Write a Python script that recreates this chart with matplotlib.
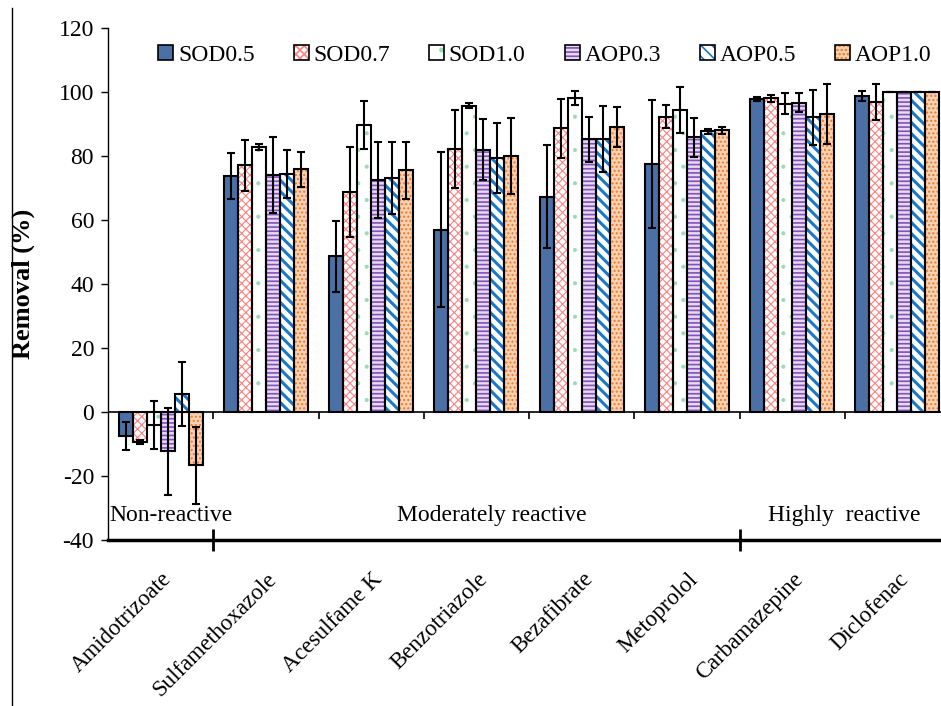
import matplotlib
matplotlib.use("Agg")
import numpy as np
import matplotlib.pyplot as plt
import matplotlib.transforms as mtrans
from matplotlib.lines import Line2D
from matplotlib.patches import Patch
from matplotlib.legend_handler import HandlerTuple

plt.rcParams["font.family"] = ["Liberation Serif", "DejaVu Serif"]
plt.rcParams["axes.unicode_minus"] = False
plt.rcParams["hatch.linewidth"] = 1.2

compounds = ["Amidotrizoate", "Sulfamethoxazole", "Acesulfame K", "Benzotriazole",
             "Bezafibrate", "Metoprolol", "Carbamazepine", "Diclofenac"]
series = ["SOD0.5", "SOD0.7", "SOD1.0", "AOP0.3", "AOP0.5", "AOP1.0"]

# removal (%) per series, one value per compound
sod05 = [-7.5, 73.8, 48.6, 56.9, 67.3, 77.6, 97.8, 98.8]
sod07 = [-9.4, 77.1, 68.8, 82.2, 88.6, 92.3, 98.0, 96.9]
sod10 = [-4.0, 82.9, 89.7, 95.7, 98.1, 94.4, 96.4, 100.0]
aop03 = [-12.3, 74.0, 72.5, 82.0, 85.2, 85.8, 96.7, 100.0]
aop05 = [5.7, 74.4, 73.1, 79.4, 85.2, 87.7, 92.1, 100.0]
aop10 = [-16.7, 75.8, 75.5, 80.0, 89.0, 88.0, 93.0, 100.0]

# standard deviations
sod05_err = [4.5, 7.2, 11.2, 24.2, 16.1, 20.0, 0.7, 1.5]
sod07_err = [0.5, 8.0, 14.0, 12.2, 9.1, 3.5, 1.2, 5.5]
sod10_err = [7.5, 1.0, 7.5, 0.8, 2.3, 7.3, 3.4, 0.0]
aop03_err = [13.6, 11.8, 11.8, 9.5, 7.0, 6.0, 3.1, 0.0]
aop05_err = [10.0, 7.5, 11.2, 11.0, 10.3, 0.8, 8.6, 0.0]
aop10_err = [12.0, 5.4, 8.9, 12.0, 6.2, 1.0, 9.4, 0.0]

groups = ["Non-reactive", "Moderately reactive", "Highly  reactive"]
group_x = [0.1, 3.15, 6.5]
group_sep = [0.5, 5.5]

values = [sod05, sod07, sod10, aop03, aop05, aop10]
errors = [sod05_err, sod07_err, sod10_err, aop03_err, aop05_err, aop10_err]

# (face colour, hatch, hatch colour, hatch linewidth)
styles = [
    ("#4A70A6", None, "#4A70A6", 1.0),
    ("white", "xxxx", "#FF8080", 0.8),
    ("white", ".", "#9ADBB5", 0.5),
    ("#E6DAF2", "----", "#8450BA", 1.2),
    ("white", "\\\\\\", "#1A78C8", 2.2),
    ("#F9D2B4", "....", "#EE7A2A", 1.0),
]

FS = 17

fig = plt.figure(figsize=(9.41, 7.06), dpi=100)
ax = fig.add_axes([108 / 941, 1 - 540 / 706, 842 / 941, 512 / 706])

x = np.arange(len(compounds))
width = 0.8 / len(series)
handles = []
for i, (vals, errs, (fc, hatch, hc, hlw)) in enumerate(zip(values, errors, styles)):
    pos = x - 0.4 + width * (i + 0.5)
    bars = ax.bar(pos, vals, width, color=fc, hatch=hatch, edgecolor=hc, linewidth=0, zorder=2)
    ax.bar(pos, vals, width, fill=False, edgecolor="black", linewidth=1.5, zorder=3)
    ax.errorbar(pos, vals, yerr=errs, fmt="none", ecolor="black", elinewidth=1.5,
                capsize=3, capthick=1.5, zorder=4)
    h = Patch(facecolor=fc, hatch=hatch, edgecolor=hc, linewidth=0)
    if hasattr(h, "set_hatch_linewidth"):
        h.set_hatch_linewidth(hlw)
        for b in bars:
            b.set_hatch_linewidth(hlw)
    handles.append((h, Patch(fill=False, edgecolor="black", linewidth=1.2)))

ax.set_xlim(-0.5, len(compounds) - 0.5)
ax.set_ylim(-40, 120)
ax.set_yticks(np.arange(-40, 121, 20))
ax.tick_params(axis="y", labelsize=FS, direction="out", length=5, width=1, pad=5)

ax.set_xticks(x)
ax.set_xticklabels(compounds, rotation=45, ha="right", va="center",
                   rotation_mode="anchor", fontsize=16.5)
ax.tick_params(axis="x", which="major", length=0, pad=26)
shift = mtrans.ScaledTranslation(8 / 100, 0, fig.dpi_scale_trans)
for lab in ax.get_xticklabels():
    lab.set_transform(lab.get_transform() + shift)
ax.set_xticks(group_sep, minor=True)
ax.tick_params(axis="x", which="minor", direction="inout", length=16, width=2)

# zero line with small boundary ticks
ax.axhline(0, color="black", linewidth=1.2, zorder=5)
ax.plot(x[:-1] + 0.5, np.zeros(len(x) - 1), linestyle="none", marker=3,
        markersize=5, markeredgewidth=1.2, color="black", zorder=5)

for name, gx in zip(groups, group_x):
    ax.text(gx, -32.2, name, ha="center", va="center", fontsize=FS)

for s in ["top", "right"]:
    ax.spines[s].set_visible(False)
ax.spines["bottom"].set_linewidth(2.5)
ax.spines["left"].set_linewidth(1)

ax.set_ylabel("Removal (%)", fontsize=19, fontweight="bold")
ax.yaxis.set_label_coords(-0.087, 0.5)

ax.legend(handles, series, handler_map={tuple: HandlerTuple(ndivide=1, pad=0)},
          loc="upper left", bbox_to_anchor=(0.04, 1.0), ncol=6, frameon=False,
          fontsize=FS, handlelength=0.64, handleheight=0.6, handletextpad=0.2,
          columnspacing=1.65, borderaxespad=0.3)

fig.add_artist(Line2D([12 / 941, 12 / 941], [0, 1 - 8 / 706], color="black", linewidth=1))

fig.savefig("out.png", dpi=100)
